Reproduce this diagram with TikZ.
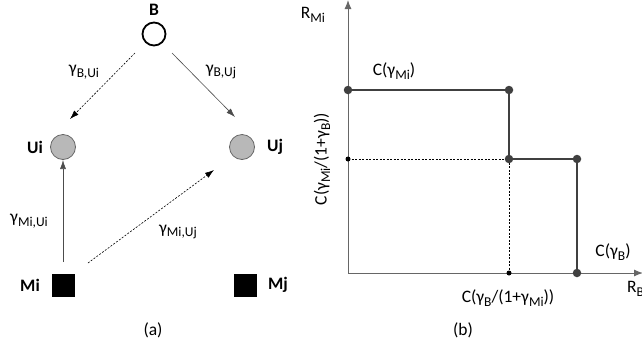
\documentclass[tikz,border=0pt]{standalone}
\usepackage{fontspec}
\setmainfont{Carlito}
\usetikzlibrary{arrows.meta}
\newcommand{\sbx}[1]{\raisebox{-0.2em}{\fontsize{13.5}{15}\selectfont #1}}
\begin{document}
\begin{tikzpicture}[x=1pt,y=-1pt,
  lbl/.style={font=\fontsize{17.5}{19}\selectfont, inner sep=0pt},
  blbl/.style={font=\fontsize{17.5}{19}\selectfont\bfseries, inner sep=0pt},
  arr/.style={draw=black!70, line width=0.6pt, -{Latex[length=9pt,width=6pt]}},
  darr/.style={arr, draw=black, dash pattern=on 2pt off 1.5pt},
  user/.style={circle, draw=black!60, fill=black!28, line width=0.8pt, minimum size=25pt, inner sep=0pt},
  relay/.style={rectangle, fill=black, minimum size=23pt, inner sep=0pt},
  axis/.style={draw=black!60, line width=1pt, -{Latex[length=9pt,width=7pt]}},
  stair/.style={draw=black!75, line width=2.2pt},
  bigdot/.style={circle, fill=black!75, minimum size=8.5pt, inner sep=0pt},
  smalldot/.style={circle, fill=black, minimum size=5pt, inner sep=0pt},
  guide/.style={draw=black, line width=0.5pt, dash pattern=on 2pt off 1.5pt}]
\useasboundingbox (0,0) rectangle (642,349);
% ----- (a)
\node[circle, draw=black, line width=1.8pt, minimum size=23pt, inner sep=0pt] (B) at (154,34) {};
\node[blbl] (Bl) at (154,10) {B};
\node[user] (Ui) at (63,147) {};
\node[user] (Uj) at (242,147) {};
\node[blbl, anchor=east] (Uil) at (43,147) {Ui};
\node[blbl, anchor=west] (Ujl) at (267,147) {Uj};
\node[relay] (Mi) at (63,285) {};
\node[relay] (Mj) at (245,285) {};
\node[blbl, anchor=east] (Mil) at (40,285) {Mi};
\node[blbl, anchor=west] (Mjl) at (268,285) {Mj};
\coordinate (s1) at (135,53); \coordinate (t1) at (70,119);
\coordinate (s2) at (172,53); \coordinate (t2) at (235,117);
\coordinate (s3) at (63,262); \coordinate (t3) at (63,160);
\coordinate (s4) at (88,263); \coordinate (t4) at (214,170);
\draw[darr] (s1) -- (t1);
\draw[arr] (s2) -- (t2);
\draw[arr] (s3) -- (t3);
\draw[darr] (s4) -- (t4);
\node[lbl] (g1) at (84,72) {γ\sbx{B,Ui}};
\node[lbl] (g2) at (221,72) {γ\sbx{B,Uj}};
\node[lbl] (g3) at (29,221) {γ\sbx{Mi,Ui}};
\node[lbl] (g4) at (178,232) {γ\sbx{Mi,Uj}};
\node[lbl] (la) at (153,330) {(a)};
% ----- (b)
\coordinate (O) at (348,273);
\coordinate (Ytop) at (348,0);
\coordinate (Xend) at (643,273);
\draw[axis] (O) -- (Ytop);
\draw[axis] (O) -- (Xend);
\node[lbl] (RMi) at (313,15) {R\sbx{Mi}};
\node[lbl, anchor=west] (RB) at (627,289) {R\sbx{B}};
\coordinate (p1) at (348,90);
\coordinate (p2) at (509,90);
\coordinate (p3) at (509,159);
\coordinate (p4) at (577,159);
\coordinate (p5) at (577,273);
\coordinate (q1) at (348,159);
\coordinate (q2) at (509,273);
\draw[guide] (q1) -- (p3);
\draw[guide] (p3) -- (q2);
\draw[stair] (p1) -- (p2) -- (p3) -- (p4) -- (p5);
\foreach \p in {p1,p2,p3,p4,p5} \node[bigdot] at (\p) {};
\foreach \q in {q1,q2} \node[smalldot] at (\q) {};
\node[lbl] (cm) at (394,71) {C(γ\sbx{Mi})};
\node[lbl] (cb) at (613,252) {C(γ\sbx{B})};
\node[lbl] (cbm) at (508,298) {C(γ\sbx{B}/(1+γ\sbx{Mi}))};
\node[lbl, rotate=90] (cmb) at (322,159) {C(γ\sbx{Mi}/(1+γ\sbx{B}))};
\node[lbl] (lb) at (463,330) {(b)};
\end{tikzpicture}
\end{document}
